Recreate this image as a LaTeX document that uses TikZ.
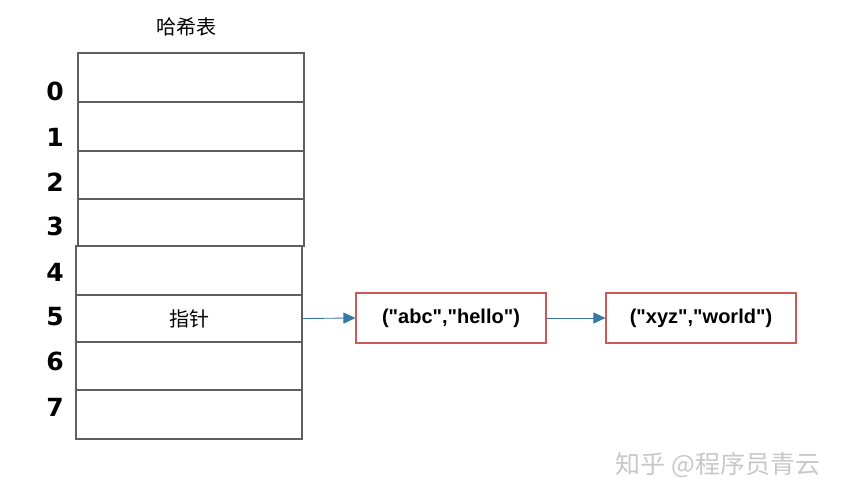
\documentclass[tikz,border=0pt]{standalone}
\usepackage{fontspec}
\setmainfont{Liberation Sans}
\newfontfamily\entryfont[Ligatures=TeXOff]{Liberation Sans}
\newfontfamily\cjk{Noto Sans CJK SC}
\newfontfamily\digitfont{DejaVu Sans}
\usetikzlibrary{arrows.meta}
\definecolor{slotgray}{RGB}{95,95,95}
\definecolor{boxred}{RGB}{200,90,90}
\definecolor{linkblue}{RGB}{55,120,165}
\definecolor{markgray}{RGB}{200,200,200}
\begin{document}
\begin{tikzpicture}[x=1pt, y=-1pt,
  slot/.style={draw=slotgray, line width=1.1pt, minimum width=226pt, inner sep=0pt},
  idx/.style={font=\digitfont\fontsize{25}{25}\selectfont\bfseries},
  entry/.style={draw=boxred, line width=1.1pt, minimum width=190pt, minimum height=50pt, inner sep=0pt, font=\entryfont\fontsize{20}{20}\selectfont\bfseries},
  link/.style={linkblue, line width=0.9pt, -{Triangle[length=12pt, width=11pt]}}]
\useasboundingbox (0,0) rectangle (862,489);
% Define the nodes
\node[font=\cjk\fontsize{20}{20}\selectfont] at (186,27) (title) {哈希表};
\node[slot, minimum height=49pt] at (191,77.5) (row0) {};
\node[slot, minimum height=49pt] at (191,126.5) (row1) {};
\node[slot, minimum height=48pt] at (191,175) (row2) {};
\node[slot, minimum height=47pt] at (191,222.5) (row3) {};
\node[slot, minimum height=49pt] at (189,270.5) (row4) {};
\node[slot, minimum height=47pt, font=\cjk\fontsize{20}{20}\selectfont] at (189,318.5) (row5) {指针};
\node[slot, minimum height=48pt] at (189,366) (row6) {};
\node[slot, minimum height=49pt] at (189,414.5) (row7) {};
\node[idx] at (55,91) (i0) {0};
\node[idx] at (55,137) (i1) {1};
\node[idx] at (55,182) (i2) {2};
\node[idx] at (55,226) (i3) {3};
\node[idx] at (55,272) (i4) {4};
\node[idx] at (55,317) (i5) {5};
\node[idx] at (55,361) (i6) {6};
\node[idx] at (55,407) (i7) {7};
\node[entry] at (451,318) (e1) {("abc","hello")};
\node[entry] at (701,318) (e2) {("xyz","world")};
\node[font=\cjk\fontsize{25}{25}\selectfont, text=markgray] at (718,465) (mark) {知乎 @程序员青云};
% Draw the paths
\draw[link] (row5.east) -- (e1.west);
\draw[link] (e1.east) -- (e2.west);
\end{tikzpicture}
\end{document}
